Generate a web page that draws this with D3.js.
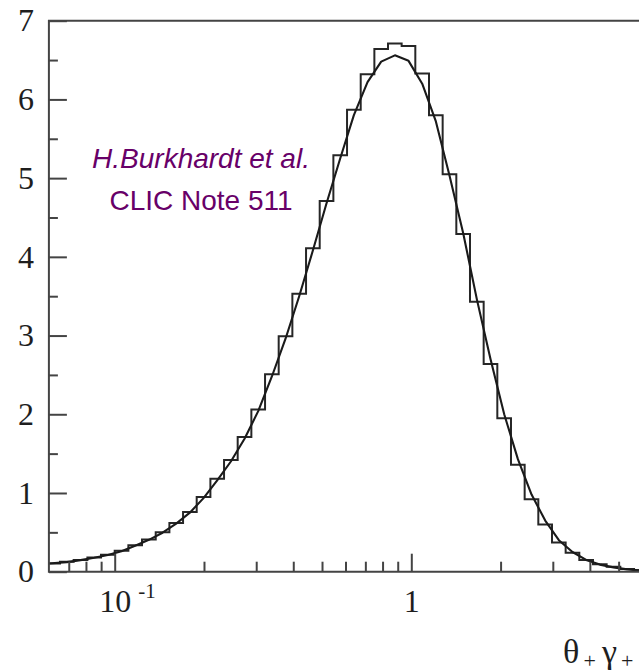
<!DOCTYPE html>
<html>
<head>
<meta charset="utf-8">
<script src="https://cdn.jsdelivr.net/npm/d3@7"></script>
<style>
  html, body { margin: 0; padding: 0; background: #fff; overflow: hidden; }
  svg { display: block; }
</style>
</head>
<body>
<svg id="chart" width="639" height="672"></svg>
<script>
// Histogram bin edges (log-spaced) and bin contents
const binEdges = [0.06, 0.0654, 0.0727, 0.0809, 0.0899, 0.1, 0.1112, 0.1236, 0.1375, 0.1529,
  0.1700, 0.1890, 0.2102, 0.2337, 0.2598, 0.2889, 0.3213, 0.3572, 0.3972, 0.4417,
  0.4911, 0.5461, 0.6072, 0.6752, 0.7507, 0.8347, 0.9278, 1.0317, 1.1472, 1.2756,
  1.4184, 1.5771, 1.7537, 1.9499, 2.1682, 2.4109, 2.6807, 2.9808, 3.3144, 3.6854,
  4.0978, 4.5564, 5.0664, 5.6334, 6.0];
const binValues = [0.105, 0.125, 0.15, 0.18, 0.215, 0.265, 0.335, 0.41, 0.50, 0.62,
  0.76, 0.95, 1.18, 1.42, 1.71, 2.06, 2.51, 2.99, 3.53, 4.11,
  4.71, 5.29, 5.87, 6.32, 6.64, 6.71, 6.68, 6.33, 5.80, 5.05,
  4.29, 3.43, 2.64, 1.95, 1.36, 0.92, 0.60, 0.37, 0.24, 0.15,
  0.094, 0.064, 0.034, 0.02];

// Analytic distribution sampled at bin centres
const curveX = [0.06, 0.069, 0.0767, 0.0853, 0.0948, 0.1054, 0.1172, 0.1304, 0.145, 0.1612,
  0.1792, 0.1993, 0.2216, 0.2464, 0.274, 0.3047, 0.3388, 0.3767, 0.4188, 0.4657,
  0.5179, 0.5758, 0.6403, 0.7119, 0.7916, 0.8803, 0.9788, 1.0884, 1.2102, 1.3457,
  1.4963, 1.6638, 1.8501, 2.0572, 2.2875, 2.5436, 2.8284, 3.1446, 3.4951, 3.8863,
  4.321, 4.8047, 5.3432, 5.94];
const curveY = [0.105, 0.122, 0.147, 0.177, 0.212, 0.26, 0.33, 0.405, 0.495, 0.61,
  0.75, 0.935, 1.16, 1.40, 1.69, 2.04, 2.48, 2.96, 3.50, 4.08,
  4.68, 5.25, 5.80, 6.22, 6.48, 6.56, 6.49, 6.20, 5.72, 5.03,
  4.30, 3.46, 2.70, 2.0, 1.43, 0.98, 0.65, 0.40, 0.25, 0.15,
  0.09, 0.055, 0.03, 0.015];

// Axis ticks
const yMajorTicks = [0, 1, 2, 3, 4, 5, 6, 7];
const yMinorTicks = [0.5, 1.5, 2.5, 3.5, 4.5, 5.5, 6.5];
const xMajorTicks = [0.1, 1];
const xMinorTicks = [0.07, 0.08, 0.09, 0.2, 0.3, 0.4, 0.5, 0.6, 0.7, 0.8, 0.9, 2, 3, 4, 5];

const annotationLines = ["H.Burkhardt et al.", "CLIC Note 511"];

const plot = { left: 48.9, right: 642.1, top: 20.7, bottom: 571.7 };
const axisColor = "#444";
const inkColor = "#1e1e1e";
const serif = "'Liberation Serif', 'Times New Roman', serif";

const svg = d3.select("#chart");
svg.append("rect").attr("width", 639).attr("height", 672).attr("fill", "#fff");

const x = d3.scaleLog().domain([0.06, 6]).range([plot.left, plot.right]);
const y = d3.scaleLinear().domain([0, 7]).range([plot.bottom, plot.top]);

svg.append("clipPath").attr("id", "plotClip")
  .append("rect")
  .attr("x", plot.left).attr("y", plot.top - 5)
  .attr("width", plot.right - plot.left).attr("height", plot.bottom - plot.top + 5);

const data = svg.append("g").attr("clip-path", "url(#plotClip)");

// Histogram outline
const stepPoints = binValues.map((v, i) => [binEdges[i], v]);
stepPoints.push([binEdges[binEdges.length - 1], binValues[binValues.length - 1]]);
data.append("path")
  .attr("d", d3.line().x(d => x(d[0])).y(d => y(d[1])).curve(d3.curveStepAfter)(stepPoints))
  .attr("fill", "none")
  .attr("stroke", "#262626")
  .attr("stroke-width", 2);

// Smooth distribution
data.append("path")
  .attr("d", d3.line().x(d => x(d[0])).y(d => y(d[1]))(curveX.map((v, i) => [v, curveY[i]])))
  .attr("fill", "none")
  .attr("stroke", "#1a1a1a")
  .attr("stroke-width", 2.1)
  .attr("stroke-linejoin", "round");

// Frame
const frame = svg.append("g").attr("stroke", axisColor).attr("stroke-width", 2).attr("fill", "none");
frame.append("path").attr("d",
  `M${plot.right},${plot.top}H${plot.left}V${plot.bottom}H${plot.right}`);

function styleAxis(g) {
  g.select(".domain").remove();
  g.selectAll(".tick line").attr("stroke", axisColor).attr("stroke-width", 2);
  g.selectAll(".tick text").attr("fill", inkColor).attr("font-family", serif).attr("font-size", 32);
}

// Y axis (ticks point into the plot)
svg.append("g").attr("transform", `translate(${plot.left},0)`)
  .call(d3.axisLeft(y).tickValues(yMajorTicks).tickSize(-18).tickPadding(15).tickFormat(d3.format("d")))
  .call(styleAxis);
svg.append("g").attr("transform", `translate(${plot.left},0)`)
  .call(d3.axisLeft(y).tickValues(yMinorTicks).tickSize(-9).tickFormat(""))
  .call(styleAxis);

// X axis
const xAxisG = svg.append("g").attr("transform", `translate(0,${plot.bottom})`)
  .call(d3.axisBottom(x).tickValues(xMajorTicks).tickSize(-18).tickPadding(17.3)
    .tickFormat(d => d === 1 ? "1" : "10"))
  .call(styleAxis);
svg.append("g").attr("transform", `translate(0,${plot.bottom})`)
  .call(d3.axisBottom(x).tickValues(xMinorTicks).tickSize(-10).tickFormat(""))
  .call(styleAxis);

// exponent for 10^-1
xAxisG.selectAll(".tick").filter(d => d === 0.1)
  .append("text")
  .attr("x", 23).attr("y", 26.3)
  .attr("text-anchor", "start")
  .attr("fill", inkColor)
  .attr("font-family", serif)
  .attr("font-size", 21)
  .text("-1");

// Axis title: θ+ γ+
const title = svg.append("text")
  .attr("fill", inkColor).attr("font-family", serif).attr("y", 663);
title.append("tspan").attr("x", 563).attr("font-size", 34).text("θ");
title.append("tspan").attr("x", 583.5).attr("dy", 5).attr("font-size", 22).text("+");
title.append("tspan").attr("x", 602).attr("dy", -5).attr("font-size", 34).text("γ");
title.append("tspan").attr("x", 621).attr("dy", 5).attr("font-size", 22).text("+");

// Reference annotation
svg.append("text")
  .attr("x", 201).attr("y", 168.3)
  .attr("text-anchor", "middle")
  .attr("font-family", "'Liberation Sans', Arial, sans-serif")
  .attr("font-style", "italic")
  .attr("font-size", 28)
  .attr("fill", "#680068")
  .text(annotationLines[0]);
svg.append("text")
  .attr("x", 201).attr("y", 210)
  .attr("text-anchor", "middle")
  .attr("font-family", "'Liberation Sans', Arial, sans-serif")
  .attr("font-size", 28)
  .attr("fill", "#680068")
  .text(annotationLines[1]);
</script>
</body>
</html>
